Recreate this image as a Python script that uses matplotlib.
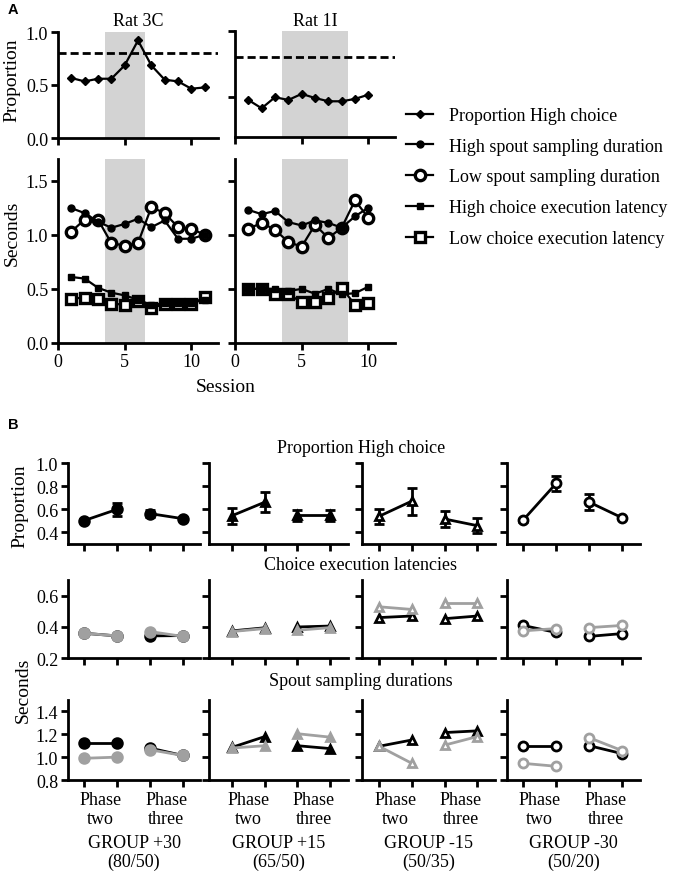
import matplotlib
matplotlib.use('Agg')
import matplotlib.pyplot as plt

plt.rcParams['font.family'] = ['Liberation Serif', 'DejaVu Serif']
plt.rcParams['font.size'] = 13

# ---------------- Panel A data ----------------
sess_3c = list(range(1, 12))
sess_1i = list(range(1, 11))
prop_3c = [0.566, 0.534, 0.559, 0.559, 0.685, 0.92, 0.685, 0.55, 0.534, 0.465, 0.477]
prop_1i = [0.477, 0.414, 0.498, 0.477, 0.523, 0.492, 0.467, 0.467, 0.485, 0.517]
crit_3c = 0.8
crit_1i = 0.8
hi_spout_3c = [1.246, 1.20, 1.12, 1.065, 1.10, 1.148, 1.07, 1.132, 0.963, 0.963, 1.0]
lo_spout_3c = [1.03, 1.14, 1.14, 0.923, 0.90, 0.923, 1.255, 1.20, 1.07, 1.055, 1.0]
hi_lat_3c = [0.61, 0.595, 0.51, 0.465, 0.44, 0.40, 0.35, 0.37, 0.37, 0.37, 0.40]
lo_lat_3c = [0.41, 0.42, 0.405, 0.363, 0.355, 0.39, 0.326, 0.357, 0.357, 0.357, 0.425]
hi_spout_1i = [1.23, 1.19, 1.22, 1.117, 1.086, 1.132, 1.11, 1.065, 1.17, 1.25]
lo_spout_1i = [1.055, 1.11, 1.046, 0.933, 0.89, 1.092, 0.97, 1.065, 1.317, 1.157]
hi_lat_1i = [0.50, 0.50, 0.50, 0.48, 0.50, 0.455, 0.50, 0.45, 0.46, 0.52]
lo_lat_1i = [0.50, 0.50, 0.45, 0.45, 0.378, 0.378, 0.415, 0.51, 0.353, 0.37]
shade_3c = (3.5, 6.5)
shade_1i = (3.5, 8.5)
legend_labels = ['Proportion High choice', 'High spout sampling duration',
                 'Low spout sampling duration', 'High choice execution latency',
                 'Low choice execution latency']

# ---------------- Panel B data ----------------
positions = [1, 2, 3, 4]
groups = ['GROUP +30\n(80/50)', 'GROUP +15\n(65/50)', 'GROUP -15\n(50/35)', 'GROUP -30\n(50/20)']
phase_labels = ['Phase\ntwo', 'Phase\nthree']
row_titles = ['Proportion High choice', 'Choice execution latencies', 'Spout sampling durations']
prop_mean = [[0.503, 0.60, 0.564, 0.52], [0.546, 0.663, 0.549, 0.549],
             [0.54, 0.672, 0.517, 0.459], [0.505, 0.825, 0.663, 0.526]]
prop_err = [[0.015, 0.055, 0.03, 0.012], [0.07, 0.085, 0.05, 0.05],
            [0.065, 0.117, 0.07, 0.065], [0.01, 0.063, 0.07, 0.01]]
lat_high = [[0.36, 0.343, 0.343, 0.345], [0.375, 0.395, 0.40, 0.406],
            [0.46, 0.47, 0.453, 0.47], [0.41, 0.365, 0.34, 0.358]]
lat_low = [[0.36, 0.343, 0.371, 0.34], [0.371, 0.39, 0.379, 0.396],
           [0.529, 0.512, 0.55, 0.55], [0.375, 0.39, 0.396, 0.41]]
spout_high = [[1.12, 1.12, 1.08, 1.015], [1.086, 1.18, 1.10, 1.075],
              [1.095, 1.15, 1.215, 1.23], [1.095, 1.095, 1.10, 1.03]]
spout_low = [[0.99, 1.0, 1.065, 1.015], [1.08, 1.10, 1.205, 1.175],
             [1.095, 0.946, 1.105, 1.18], [0.946, 0.92, 1.17, 1.056]]

W, H = 680, 878
fig = plt.figure(figsize=(W / 100, H / 100), dpi=100)
GRAY = '#a0a0a0'
SHADE = '#d3d3d3'


def ax_px(l, t, r, b):
    return fig.add_axes([l / W, 1 - b / H, (r - l) / W, (b - t) / H])


def style(ax):
    for s in ['top', 'right']:
        ax.spines[s].set_visible(False)
    for s in ['left', 'bottom']:
        ax.spines[s].set_linewidth(2.0)
    ax.tick_params(width=2.0, length=5, direction='out', labelsize=13, pad=2)


def ftext(x, y, s, **kw):
    fig.text(x / W, 1 - y / H, s, ha=kw.pop('ha', 'center'), va=kw.pop('va', 'center'), **kw)


# ---------------- Panel A ----------------
axA = [ax_px(58, 33, 218, 139), ax_px(235, 32, 395, 137.5),
       ax_px(58, 160, 218, 344), ax_px(235, 160, 395, 344)]
for ax in axA:
    style(ax)
    ax.set_xlim(0, 12)
    ax.set_xticks([0, 5, 10])

handles = {}
for k, (ax, sess, prop, crit, shade) in enumerate([
        (axA[0], sess_3c, prop_3c, crit_3c, shade_3c),
        (axA[1], sess_1i, prop_1i, crit_1i, shade_1i)]):
    ax.axvspan(*shade, color=SHADE, lw=0, zorder=0)
    ax.axhline(crit, color='k', lw=2, dashes=(2.9, 1.45), zorder=1)
    ln, = ax.plot(sess, prop, color='k', lw=1.6, marker='D', ms=4.5, zorder=3)
    if k == 0:
        handles['prop'] = ln
    ax.set_xticklabels([])

axA[0].set_ylim(0, 1.0)
axA[0].set_yticks([0, 0.5, 1.0])
axA[0].set_yticklabels(['0.0', '0.5', '1.0'])
axA[1].set_ylim(0.2, 1.0)
axA[1].set_yticks([0.5, 1.0])
axA[1].set_yticklabels([])

for k, (ax, sess, hs, ls_, hl, ll, shade) in enumerate([
        (axA[2], sess_3c, hi_spout_3c, lo_spout_3c, hi_lat_3c, lo_lat_3c, shade_3c),
        (axA[3], sess_1i, hi_spout_1i, lo_spout_1i, hi_lat_1i, lo_lat_1i, shade_1i)]):
    ax.axvspan(*shade, color=SHADE, lw=0, zorder=0)
    l_lo_s, = ax.plot(sess, ls_, color='k', lw=1.6, marker='o', ms=7.5, mew=2.4,
                      mfc='white', mec='k', zorder=3)
    l_hi_s, = ax.plot(sess, hs, color='k', lw=1.6, marker='o', ms=5, zorder=4)
    l_lo_l, = ax.plot(sess, ll, color='k', lw=1.6, marker='s', ms=6.5, mew=2.4,
                      mfc='white', mec='k', zorder=3)
    l_hi_l, = ax.plot(sess, hl, color='k', lw=1.6, marker='s', ms=5, zorder=4)
    ax.set_ylim(0, 1.7)
    ax.set_yticks([0, 0.5, 1.0, 1.5])
    if k == 0:
        ax.set_yticklabels(['0.0', '0.5', '1.0', '1.5'])
        handles['hs'] = l_hi_s
        handles['ls'] = l_lo_s
        handles['hl'] = l_hi_l
        handles['ll'] = l_lo_l
    else:
        ax.set_yticklabels([])

ftext(138, 21, 'Rat 3C', fontsize=13)
ftext(315, 21, 'Rat 1I', fontsize=13)
ftext(12, 80, 'Proportion', rotation=90, fontsize=14)
ftext(12, 233, 'Seconds', rotation=90, fontsize=14)
ftext(226, 388, 'Session', fontsize=14)
ftext(8, 10, 'A', fontsize=10.5, fontweight='bold', family='Liberation Sans', ha='left')
ftext(8, 425, 'B', fontsize=10.5, fontweight='bold', family='Liberation Sans', ha='left')

fig.legend([handles['prop'], handles['hs'], handles['ls'], handles['hl'], handles['ll']],
           legend_labels, loc='upper left', bbox_to_anchor=(406 / W, 1 - 108 / H),
           frameon=False, fontsize=13, handlelength=1.5, handletextpad=0.9,
           labelspacing=0.76, borderpad=0, borderaxespad=0, numpoints=1)

# ---------------- Panel B ----------------
cols = [(68, 200, (0.51, 4.53)), (209, 348, (0.29, 4.55)),
        (362, 495, (0.48, 4.54)), (507, 640, (0.52, 4.53))]
rows = [(464.3, 545, (0.3, 1.0), [0.4, 0.6, 0.8, 1.0]),
        (581, 659.3, (0.2, 0.7), [0.2, 0.4, 0.6]),
        (701, 781, (0.8, 1.5), [0.8, 1.0, 1.2, 1.4])]
markers = [('o', True), ('^', True), ('^', False), ('o', False)]


def draw(ax, y, color, mk, filled, z, yerr=None):
    if mk == '^':
        ms = 6
    else:
        ms = 7 if filled else 6.5
    for seg in (slice(0, 2), slice(2, 4)):
        xs = positions[seg]
        ys = y[seg]
        kw = dict(color=color, lw=2.0, marker=mk, ms=ms,
                  mew=2.0, mec=color, mfc=color if filled else 'white', zorder=z)
        if yerr is not None:
            ax.errorbar(xs, ys, yerr=yerr[seg], capsize=3.5, elinewidth=2,
                        capthick=2, ecolor=color, **kw)
        else:
            ax.plot(xs, ys, **kw)


for c, (l, r, xl) in enumerate(cols):
    mk, filled = markers[c]
    for ri, (t, b, yl, yt) in enumerate(rows):
        ax = ax_px(l, t, r, b)
        style(ax)
        ax.set_xlim(*xl)
        ax.set_ylim(*yl)
        ax.set_xticks(positions)
        ax.set_xticklabels([])
        ax.set_yticks(yt)
        if c == 0:
            ax.set_yticklabels(['%.1f' % v for v in yt])
        else:
            ax.set_yticklabels([])
        if ri == 0:
            draw(ax, prop_mean[c], 'k', mk, filled, 3, yerr=prop_err[c])
        elif ri == 1:
            draw(ax, lat_high[c], 'k', mk, filled, 3)
            draw(ax, lat_low[c], GRAY, mk, filled, 4)
        else:
            draw(ax, spout_high[c], 'k', mk, filled, 3)
            draw(ax, spout_low[c], GRAY, mk, filled, 4)
            ax.set_xticks([1.5, 3.5], minor=True)
            ax.set_xticklabels(phase_labels, minor=True, fontsize=13, linespacing=1.15)
            ax.tick_params(axis='x', which='minor', length=0, pad=8)
            ax.set_xlabel(groups[c], fontsize=13, labelpad=5, linespacing=1.15)

for txt, y in zip(row_titles, [449, 566, 682]):
    ftext(361, y, txt, fontsize=13)
ftext(20, 506, 'Proportion', rotation=90, fontsize=14)
ftext(23, 690, 'Seconds', rotation=90, fontsize=14)

fig.savefig('out.png', dpi=100)
